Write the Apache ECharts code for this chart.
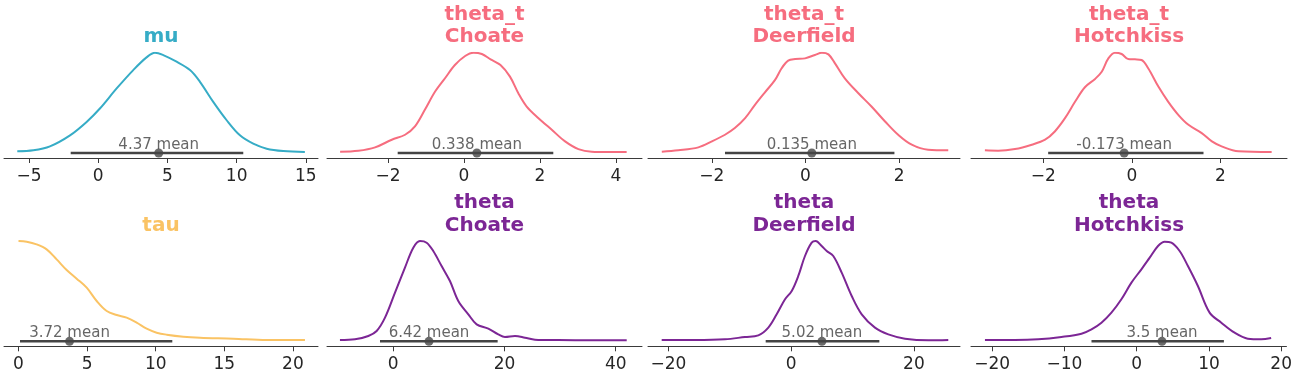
<!DOCTYPE html>
<html>
<head>
<meta charset="utf-8">
<script src="https://cdn.jsdelivr.net/npm/echarts@6/dist/echarts.min.js"></script>
<style>
  html, body { margin: 0; padding: 0; background: #ffffff; }
  #chart { width: 1295px; height: 376px; }
</style>
</head>
<body>
<div id="chart"></div>
<script>
// ---- data (x values, relative density heights) ----
const panelTitles = ['mu', 'theta_t\nChoate', 'theta_t\nDeerfield', 'theta_t\nHotchkiss',
                     'tau', 'theta\nChoate', 'theta\nDeerfield', 'theta\nHotchkiss'];

const muX = [-5.85,-4.69,-3.49,-2.04,-0.84,0.12,1.33,2.53,3.49,4.10,4.70,5.66,6.63,7.35,8.31,9.28,10.24,11.2,12.17,13.37,14.93];
const muD = [0.007,0.017,0.057,0.168,0.303,0.438,0.640,0.825,0.953,1.0,0.976,0.909,0.825,0.707,0.505,0.320,0.168,0.084,0.034,0.010,0.0];

const thetaTChoateX = [-3.26,-2.78,-2.34,-1.90,-1.55,-1.29,-1.03,-0.76,-0.50,-0.24,0.03,0.25,0.47,0.70,0.96,1.21,1.43,1.65,1.96,2.31,2.66,3.01,3.36,3.80,4.28];
const thetaTChoateD = [0.003,0.013,0.047,0.124,0.174,0.258,0.425,0.609,0.743,0.876,0.967,1.0,0.987,0.933,0.876,0.759,0.592,0.458,0.341,0.224,0.107,0.030,0.003,0,0];

const thetaTDeerfieldX = [-3.07,-2.72,-2.29,-2.00,-1.72,-1.51,-1.29,-1.08,-0.87,-0.65,-0.51,-0.37,-0.22,-0.01,0.20,0.35,0.49,0.63,0.84,1.13,1.41,1.70,1.98,2.27,2.62,3.05];
const thetaTDeerfieldD = [0.003,0.017,0.047,0.107,0.174,0.241,0.341,0.475,0.599,0.726,0.843,0.920,0.936,0.943,0.977,1.0,0.983,0.893,0.742,0.592,0.458,0.308,0.174,0.074,0.023,0.017];

const thetaTHotchkissX = [-3.32,-3.02,-2.64,-2.26,-1.96,-1.74,-1.51,-1.28,-1.06,-0.83,-0.68,-0.53,-0.38,-0.23,-0.08,0.07,0.22,0.37,0.60,0.82,1.05,1.28,1.58,1.81,2.03,2.41,3.16];
const thetaTHotchkissD = [0.017,0.013,0.030,0.074,0.124,0.207,0.341,0.508,0.652,0.736,0.809,0.943,1.0,0.987,0.936,0.933,0.926,0.843,0.659,0.508,0.375,0.274,0.191,0.107,0.057,0.007,0];

const tauX = [0,0.60,1.32,2.05,2.78,3.51,4.24,4.97,5.70,6.43,7.16,7.88,8.61,9.34,10.07,10.80,12.01,13.23,15.66,18.09,20.88];
const tauD = [1.0,0.993,0.966,0.916,0.815,0.708,0.621,0.530,0.396,0.295,0.255,0.228,0.178,0.117,0.077,0.057,0.037,0.027,0.017,0.003,0.003];

const thetaChoateX = [-9.59,-6.89,-4.49,-2.99,-1.49,0.31,2.10,3.60,4.80,6.00,7.19,8.69,10.19,11.69,13.49,14.99,17.09,18.88,20.09,21.89,23.69,25.49,29.68,35.68,41.98];
const thetaChoateD = [0.003,0.010,0.044,0.094,0.228,0.480,0.732,0.933,1.0,0.983,0.899,0.748,0.597,0.396,0.262,0.161,0.117,0.060,0.034,0.044,0.027,0.007,0.003,0,0];

const thetaDeerfieldX = [-21.08,-15.65,-10.77,-7.51,-5.34,-3.71,-2.35,-0.99,0.10,1.17,2.26,3.35,4.00,4.98,5.80,6.87,8.24,9.87,11.50,13.66,15.83,18.55,22.35,25.60];
const thetaDeerfieldD = [0.003,0.003,0.010,0.034,0.050,0.128,0.262,0.413,0.497,0.648,0.849,0.983,1.0,0.950,0.899,0.849,0.681,0.446,0.262,0.128,0.060,0.017,0,0.003];

const thetaHotchkissX = [-21.01,-16.86,-13.64,-10.41,-7.65,-6.26,-4.88,-3.50,-2.12,-0.73,0.65,1.80,2.95,3.87,4.80,5.94,7.09,8.47,10.09,11.71,13.55,15.38,17.23,18.61];
const thetaHotchkissD = [0.003,0.003,0.010,0.034,0.067,0.111,0.178,0.279,0.413,0.581,0.715,0.832,0.950,0.993,0.983,0.899,0.748,0.547,0.279,0.178,0.077,0.017,0.010,0.023];

const means    = [4.37, 0.338, 0.135, -0.173, 3.72, 6.42, 5.02, 3.5];
const meanText = ['4.37', '0.338', '0.135', '-0.173', '3.72', '6.42', '5.02', '3.5'];
const hdiLow   = [-1.99, -1.745, -1.72, -1.89, 0.11, -2.39, -4.14, -6.26];
const hdiHigh  = [10.48, 2.35, 1.90, 1.62, 11.21, 18.77, 14.37, 12.07];

const xMin = [-6.81, -3.605, -3.365, -3.634, -1.057, -11.92, -23.31, -22.94];
const xMax = [15.88, 4.684, 3.301, 3.507, 21.83, 44.73, 27.51, 20.73];
const tickValues = [[-5,0,5,10,15], [-2,0,2,4], [-2,0,2], [-2,0,2],
                    [0,5,10,15,20], [0,20,40], [-20,0,20], [-20,-10,0,10,20]];

// ---- styles / layout ----
const xs = [muX, thetaTChoateX, thetaTDeerfieldX, thetaTHotchkissX, tauX, thetaChoateX, thetaDeerfieldX, thetaHotchkissX];
const ds = [muD, thetaTChoateD, thetaTDeerfieldD, thetaTHotchkissD, tauD, thetaChoateD, thetaDeerfieldD, thetaHotchkissD];
const colors = ['#36acc6', '#f66d7f', '#f66d7f', '#f66d7f', '#fac364', '#7c2695', '#7c2695', '#7c2695'];
const colLeft = [4, 327, 648, 971];
const colWidth = [314, 315, 312, 316];
const rowTop = [52.7, 241];
const gridH = 105.3;
const yMin = -0.06, hdiY = -0.01;
const FONT = 'DejaVu Sans';

const grids = [], xAxes = [], yAxes = [], series = [], graphics = [];
for (let i = 0; i < 8; i++) {
  const c = i % 4, r = Math.floor(i / 4);
  grids.push({ left: colLeft[c], top: rowTop[r], width: colWidth[c], height: gridH });
  xAxes.push({
    type: 'value', gridIndex: i, min: xMin[i], max: xMax[i],
    splitLine: { show: false },
    axisLine: { show: true, onZero: false, lineStyle: { color: '#3a3a3a', width: 1 } },
    axisTick: { show: true, length: 5, customValues: tickValues[i], lineStyle: { color: '#3a3a3a', width: 1 } },
    axisLabel: { show: true, customValues: tickValues[i], margin: 10, fontFamily: FONT, fontSize: 17, color: '#262626',
                 formatter: v => String(v).replace('-', '\u2212') }
  });
  yAxes.push({ type: 'value', gridIndex: i, min: yMin, max: 1, show: false });
  series.push({
    type: 'line', xAxisIndex: i, yAxisIndex: i, smooth: 0.35, symbol: 'none',
    lineStyle: { color: colors[i], width: 2 },
    data: xs[i].map((x, k) => [x, ds[i][k]]), z: 2, silent: true
  });
  series.push({
    type: 'line', xAxisIndex: i, yAxisIndex: i, symbol: 'none',
    lineStyle: { color: '#454545', width: 2.5 },
    data: [[hdiLow[i], hdiY], [hdiHigh[i], hdiY]], z: 3, silent: true
  });
  series.push({
    type: 'scatter', xAxisIndex: i, yAxisIndex: i, symbol: 'circle', symbolSize: 9,
    itemStyle: { color: '#454545' },
    label: { show: true, position: 'top', distance: -4, formatter: meanText[i] + ' mean',
             fontFamily: FONT, fontSize: 15, color: '#404040' },
    data: [[means[i], hdiY]], z: 4, silent: true
  });
  graphics.push({
    type: 'text',
    x: colLeft[c] + colWidth[c] / 2, y: rowTop[r] - 4.4,
    style: { text: panelTitles[i], fill: colors[i], font: 'bold 20px "' + FONT + '"',
             textAlign: 'center', textVerticalAlign: 'bottom', lineHeight: 22.5 }
  });
}

const chart = echarts.init(document.getElementById('chart'), null, { renderer: 'canvas' });
chart.setOption({
  animation: false,
  backgroundColor: '#ffffff',
  grid: grids, xAxis: xAxes, yAxis: yAxes, series: series,
  graphic: graphics
});
</script>
</body>
</html>
